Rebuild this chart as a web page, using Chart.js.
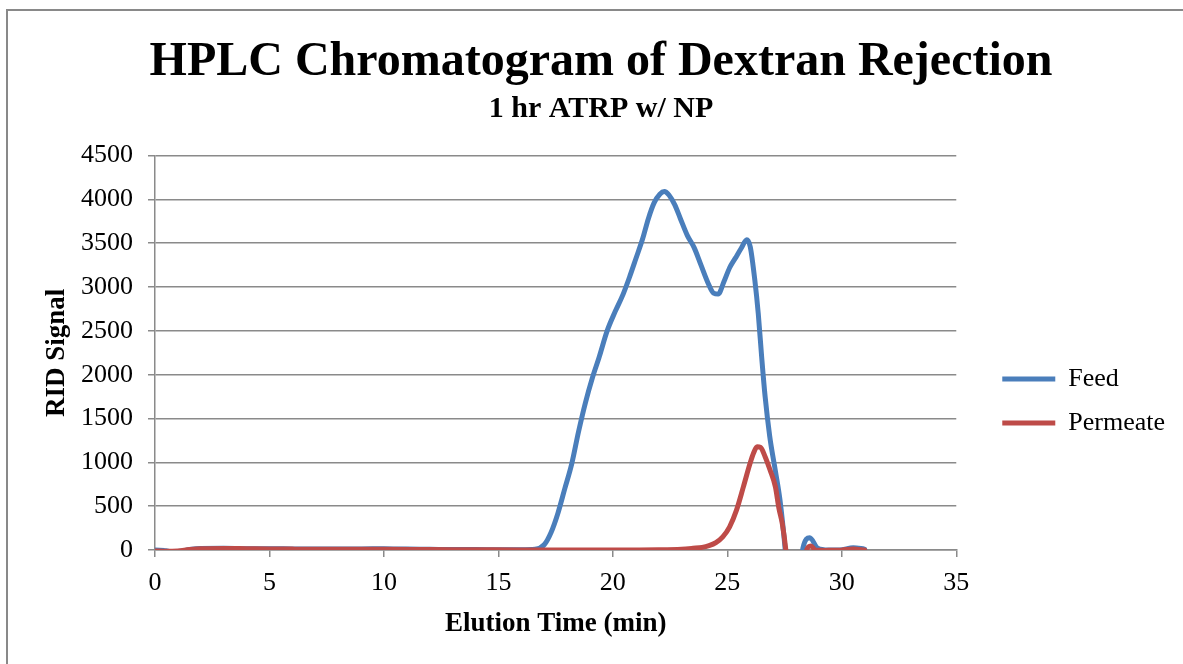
<!DOCTYPE html>
<html>
<head>
<meta charset="utf-8">
<script src="https://cdn.jsdelivr.net/npm/chart.js"></script>
<style>
    html, body { margin: 0; padding: 0; background: #fff; overflow: hidden; }
    #frame { position: absolute; left: 6px; top: 9px; width: 1400px; height: 900px;
             border-top: 2px solid #898989; border-left: 2px solid #898989; }
    #hplcChart { position: absolute; left: 0; top: 0; }
</style>
</head>
<body>
<div id="frame"></div>
<canvas id="hplcChart" width="1183" height="664"></canvas>
<script>
// elution time (min) and RID signal
var feedTime = [0, 0.4, 0.8, 1.2, 1.6, 2.0, 3.0, 4.0, 5.0, 6.0, 7.0, 8.0, 9.0, 10.0, 11.0, 12.0, 13.0, 14.0, 15.0, 16.0,
    16.6, 17.0, 17.3, 17.6, 17.9, 18.2, 18.5, 18.8, 19.1, 19.4, 19.75, 20.1, 20.45, 20.75, 21.0, 21.3, 21.55, 21.8,
    22.05, 22.25, 22.45, 22.7, 22.95, 23.25, 23.55, 23.85, 24.15, 24.4, 24.6, 24.85, 25.1, 25.35, 25.6, 25.85, 26.0,
    26.2, 26.35, 26.5, 26.65, 26.85, 27.1, 27.3, 27.55, 27.8, 28.05, 28.3, 28.6, 28.95, 29.4, 29.9, 30.5, 31.0];
var feedSignal = [0, -5, -25, -10, 10, 18, 20, 15, 15, 12, 10, 12, 12, 15, 10, 8, 5, 5, 3, 3,
    8, 60, 200, 420, 700, 980, 1350, 1680, 1960, 2200, 2500, 2720, 2920, 3130, 3320, 3550, 3780, 3960,
    4060, 4090, 4050, 3940, 3780, 3590, 3450, 3250, 3050, 2930, 2920, 3060, 3220, 3330, 3440, 3540, 3460,
    3080, 2700, 2200, 1750, 1300, 900, 570, -60, -900, -900, 20, 140, 20, 0, 0, 25, 10];

var permeateTime = [0, 0.5, 1.0, 1.5, 2.0, 3.0, 4.0, 5.0, 6.0, 8.0, 10.0, 12.0, 14.0, 16.0, 18.0, 20.0, 22.0, 23.0,
    23.5, 23.9, 24.2, 24.5, 24.8, 25.1, 25.4, 25.7, 26.0, 26.15, 26.3, 26.45, 26.65, 26.87, 27.1, 27.25, 27.4, 27.55,
    27.75, 28.2, 28.45, 28.65, 28.85, 29.3, 30.0, 30.5, 31.0];
var permeateSignal = [-10, -15, -10, 5, 15, 18, 15, 12, 10, 8, 8, 5, 3, 0, 0, 0, 3, 10,
    20, 30, 50, 85, 150, 265, 455, 720, 995, 1110, 1178, 1170, 1065, 910, 720, 480, 300, 10,
    -600, -600, -10, 45, 0, -5, 0, 10, 0];

var xTickValues = [0, 5, 10, 15, 20, 25, 30, 35];
var yTickValues = [0, 500, 1000, 1500, 2000, 2500, 3000, 3500, 4000, 4500];

var serif = '"Times New Roman", "Liberation Serif", serif';
var axisGray = '#8a8a8a';

function toPoints(t, v) {
    return t.map(function(x, i) { return { x: x, y: v[i] }; });
}

function tickList(values) {
    return function(scale) {
        scale.ticks = values.map(function(v) { return { value: v }; });
    };
}

function plainNumber(value) {
    return String(value);
}

document.addEventListener("DOMContentLoaded", function() {
    createChromatogram();
});

function createChromatogram() {
    var ctx = document.getElementById('hplcChart').getContext('2d');
    new Chart(ctx, {
        type: 'line',
        data: {
            datasets: [{
                label: 'Feed',
                data: toPoints(feedTime, feedSignal),
                borderColor: '#4A7EBB',
                backgroundColor: '#4A7EBB',
                borderWidth: 5,
                pointRadius: 0,
                cubicInterpolationMode: 'monotone',
                borderCapStyle: 'round',
                borderJoinStyle: 'round',
                order: 1
            }, {
                label: 'Permeate',
                data: toPoints(permeateTime, permeateSignal),
                borderColor: '#BE4B48',
                backgroundColor: '#BE4B48',
                borderWidth: 5,
                pointRadius: 0,
                cubicInterpolationMode: 'monotone',
                borderCapStyle: 'round',
                borderJoinStyle: 'round',
                order: 0
            }]
        },
        options: {
            responsive: false,
            animation: false,
            devicePixelRatio: 1,
            events: [],
            layout: { padding: { left: 27, right: 8, top: 10, bottom: 0 } },
            scales: {
                x: {
                    type: 'linear',
                    position: 'bottom',
                    min: 0,
                    max: 35,
                    afterBuildTicks: tickList(xTickValues),
                    afterFit: function(scale) { scale.height = 114; },
                    grid: { drawOnChartArea: false, drawTicks: true, tickLength: 7, color: axisGray, lineWidth: 1.5 },
                    border: { color: axisGray, width: 1.5 },
                    ticks: { font: { family: serif, size: 26 }, color: '#000', padding: 11, maxRotation: 0, callback: plainNumber },
                    title: {
                        display: true,
                        text: 'Elution Time (min)',
                        font: { family: serif, size: 27, weight: 'bold' },
                        color: '#000',
                        padding: { top: 0, bottom: 24 }
                    }
                },
                y: {
                    type: 'linear',
                    position: 'left',
                    min: 0,
                    max: 4500,
                    afterBuildTicks: tickList(yTickValues),
                    afterFit: function(scale) { scale.width = 128; },
                    grid: { tickLength: 7, color: axisGray, lineWidth: 1.5 },
                    border: { color: axisGray, width: 1.5 },
                    ticks: { font: { family: serif, size: 26 }, color: '#000', padding: 15, callback: plainNumber },
                    title: {
                        display: true,
                        text: 'RID Signal',
                        font: { family: serif, size: 27, weight: 'bold' },
                        color: '#000',
                        padding: { top: 14, bottom: 0 }
                    }
                },
                // empty right-hand axis, only keeps the gap between plot and legend
                gap: {
                    type: 'linear',
                    position: 'right',
                    display: true,
                    grid: { display: false },
                    border: { display: false },
                    ticks: { display: false },
                    afterFit: function(scale) { scale.width = 28; }
                }
            },
            plugins: {
                title: {
                    display: true,
                    text: 'HPLC Chromatogram of Dextran Rejection',
                    font: { family: serif, size: 48, weight: 'bold' },
                    color: '#000',
                    padding: { top: 24, bottom: 0 }
                },
                subtitle: {
                    display: true,
                    text: '1 hr ATRP w/ NP',
                    font: { family: serif, size: 30, weight: 'bold' },
                    color: '#000',
                    padding: { top: 0, bottom: 28 }
                },
                legend: {
                    position: 'right',
                    title: { display: true, text: '', font: { size: 10 }, padding: { top: 58, bottom: 58 } },
                    labels: {
                        sort: function(a, b) { return a.datasetIndex - b.datasetIndex; },
                        usePointStyle: true,
                        pointStyle: 'line',
                        pointStyleWidth: 53,
                        padding: 18,
                        color: '#000',
                        font: { family: serif, size: 26 }
                    }
                },
                tooltip: { enabled: false }
            }
        }
    });
}
</script>
</body>
</html>
